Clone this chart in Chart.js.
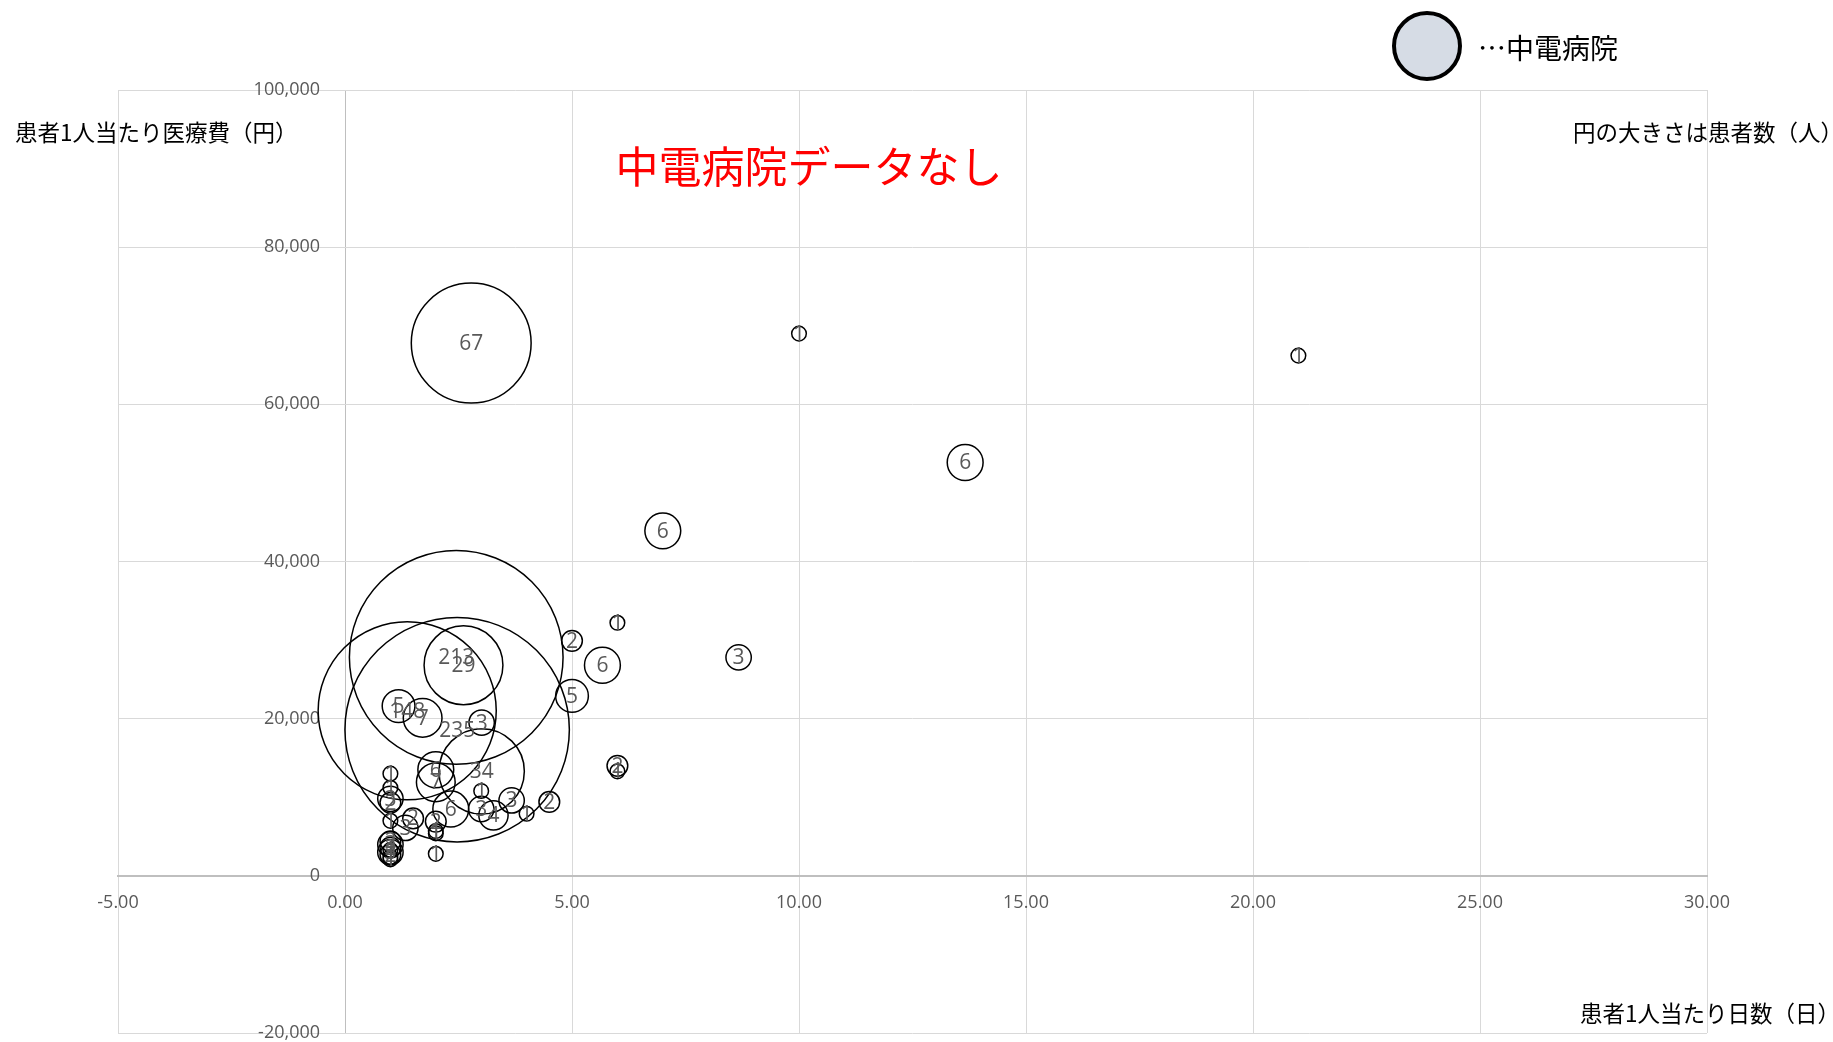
<!DOCTYPE html>
<html>
<head>
<meta charset="utf-8">
<script src="https://cdn.jsdelivr.net/npm/chart.js@4.4.1/dist/chart.umd.min.js"></script>
<style>
body { margin: 0; background: #fff; }
</style>
</head>
<body>
<canvas id="bubbleChart" width="1833" height="1042"></canvas>
<script>
// 患者1人当たり日数（日）
const days = [
    2.78, 10.0, 21.0, 13.66, 7.0, 6.0, 5.0, 5.67, 8.67, 5.0, 6.0, 6.0,
    2.45, 2.61, 2.47, 1.37, 1.18, 1.71, 3.01, 3.01, 2.0, 2.0, 2.33,
    3.0, 3.0, 3.27, 3.67, 4.0, 4.5,
    1.0, 1.0, 1.0, 1.0, 1.0, 1.5, 1.33, 2.0, 2.0, 2.0, 2.0,
    1.0, 1.0, 1.0, 1.0, 1.0, 1.0, 1.0, 1.0
];

// 患者1人当たり医療費（円）
const costs = [
    67800, 69000, 66200, 52600, 43900, 32200, 29900, 26800, 27800, 22900, 14000, 13300,
    27800, 26800, 18600, 21000, 21600, 20100, 19500, 13300, 13500, 11900, 8500,
    10800, 8500, 7700, 9600, 7900, 9400,
    13000, 11200, 9800, 9300, 7000, 7300, 6100, 6900, 5700, 5400, 2800,
    4400, 4000, 3600, 3300, 3000, 2700, 2400, 2100
];

// 患者数（人）
const patients = [
    67, 1, 1, 6, 6, 1, 2, 6, 3, 5, 2, 1,
    213, 29, 235, 148, 5, 7, 3, 34, 6, 7, 6,
    1, 3, 4, 3, 1, 2,
    1, 1, 3, 2, 1, 2, 3, 2, 1, 1, 1,
    2, 3, 2, 1, 3, 2, 1, 1
];

const xMin = -5, xMax = 30, xStep = 5;
const yMin = -20000, yMax = 100000, yStep = 20000;

const yTitle = "患者1人当たり医療費（円）";
const xTitle = "患者1人当たり日数（日）";
const sizeNote = "円の大きさは患者数（人）";
const noData = "中電病院データなし";
const legendText = "…中電病院";

const bubbleScale = 7.32;

const points = days.map((d, i) => ({
    x: d,
    y: costs[i],
    r: bubbleScale * Math.sqrt(patients[i])
}));


const countLabels = {
    id: "countLabels",
    afterDatasetsDraw(c) {
        const ctx = c.ctx;
        const meta = c.getDatasetMeta(0);
        ctx.save();
        ctx.font = "21px 'Open Sans'";
        ctx.fillStyle = "#595959";
        ctx.textAlign = "center";
        ctx.textBaseline = "middle";
        meta.data.forEach((p, i) => {
            ctx.fillText(String(patients[i]), p.x, p.y + 1);
        });
        ctx.restore();
    }
};

const texts = {
    id: "texts",
    afterDraw(c) {
        const ctx = c.ctx;
        ctx.save();
        ctx.textBaseline = "middle";
        ctx.fillStyle = "#000";
        ctx.font = "22.5px 'Noto Sans CJK JP'";

        ctx.textAlign = "left";
        ctx.fillText(yTitle, 15, 132);

        ctx.textAlign = "right";
        ctx.fillText(sizeNote, 1843, 132);
        ctx.fillText(xTitle, 1840, 1013);

        ctx.textAlign = "center";
        ctx.fillStyle = "#ff0000";
        ctx.font = "43px 'Noto Sans CJK JP'";
        ctx.fillText(noData, 809, 167);

        // legend
        ctx.beginPath();
        ctx.arc(1427, 46, 33, 0, Math.PI * 2);
        ctx.fillStyle = "#d6dce5";
        ctx.fill();
        ctx.lineWidth = 4;
        ctx.strokeStyle = "#000";
        ctx.stroke();

        ctx.fillStyle = "#000";
        ctx.textAlign = "left";
        ctx.font = "28px 'Noto Sans CJK JP'";
        ctx.fillText(legendText, 1478, 48);
        ctx.restore();
    }
};

new Chart(bubbleChart, {
    type: "bubble",
    data: {
        datasets: [{
            label: "患者数",
            data: points,
            backgroundColor: "rgba(0,0,0,0)",
            borderColor: "#000",
            borderWidth: 1.5
        }]
    },
    options: {
        responsive: false,
        animation: false,
        layout: {
            autoPadding: false,
            padding: { left: 118, right: 126, top: 90, bottom: 9 }
        },
        plugins: {
            legend: { display: false },
            tooltip: { enabled: false }
        },
        scales: {
            x: {
                type: "linear",
                min: xMin,
                max: xMax,
                position: { y: 0 },
                afterFit: s => {
                    s.height = 0;
                    s.paddingLeft = 0;
                    s.paddingRight = 0;
                },
                ticks: {
                    stepSize: xStep,
                    padding: 16,
                    maxRotation: 0,
                    autoSkip: false,
                    color: "#595959",
                    font: { family: "'Open Sans'", size: 18 },
                    callback: v => Number(v).toFixed(2)
                },
                grid: {
                    color: ctx => (ctx.tick && ctx.tick.value === 0) ? "#bfbfbf" : "#d9d9d9",
                    lineWidth: 1,
                    drawTicks: false
                },
                border: { display: true, color: "#bfbfbf", width: 2 }
            },
            y: {
                type: "linear",
                min: yMin,
                max: yMax,
                position: { x: -0.55 },
                afterFit: s => {
                    s.width = 0;
                    s.paddingTop = 0;
                    s.paddingBottom = 0;
                },
                ticks: {
                    stepSize: yStep,
                    color: "#595959",
                    font: { family: "'Open Sans'", size: 18 },
                    callback: v => Number(v).toLocaleString("en-US")
                },
                grid: {
                    color: "#d9d9d9",
                    lineWidth: 1,
                    drawTicks: false
                },
                border: { display: false }
            }
        }
    },
    plugins: [countLabels, texts]
});
</script>
</body>
</html>
